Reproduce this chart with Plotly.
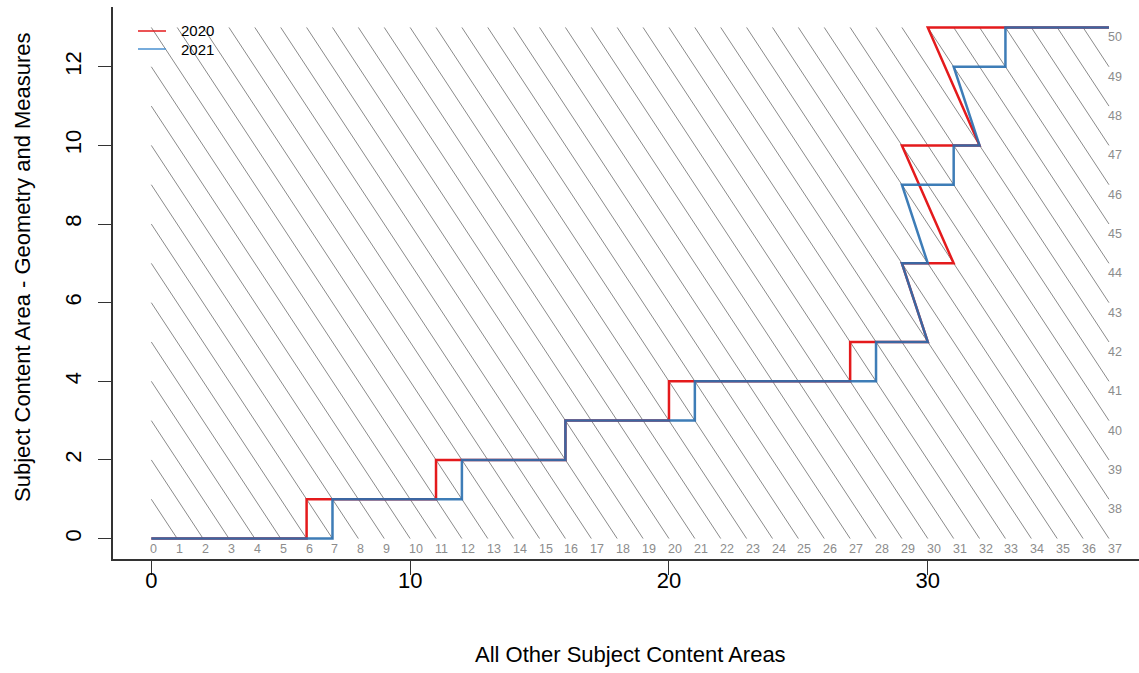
import plotly.graph_objects as go

# ---- data ----
x2020 = [0, 6, 6, 11, 11, 16, 16, 20, 20, 27, 27, 30, 29, 31, 29, 32, 30, 37]
y2020 = [0, 0, 1, 1, 2, 2, 3, 3, 4, 4, 5, 5, 7, 7, 10, 10, 13, 13]
x2021 = [0, 7, 7, 12, 12, 16, 16, 21, 21, 28, 28, 30, 29, 30, 29, 31, 31, 32, 31, 33, 33, 37]
y2021 = [0, 0, 1, 1, 2, 2, 3, 3, 4, 4, 5, 5, 7, 7, 9, 9, 10, 10, 12, 12, 13, 13]
series_names = ["2020", "2021"]
totals = list(range(0, 51))          # iso-total score lines x + y = k
x_max, y_max = 37, 13
x_ticks = [0, 10, 20, 30]
y_ticks = [0, 2, 4, 6, 8, 10, 12]

FONT = "Liberation Sans, Arial, Helvetica, sans-serif"
RED = "#E41A1C"
BLUE = "#2A6FB0"

L, T, B, W, H = 113, 7, 114, 1139, 673
PW = W - L
PH = H - T - B


def px_x(p):
    return (p - L) / PW


def px_y(p):
    return (H - B - p) / PH


# diagonal guide lines clipped to the plotting box
dx, dy = [], []
for k in totals:
    if k == 0:
        continue
    x0 = max(0, k - y_max)
    y0 = k - x0
    x1 = min(k, x_max)
    y1 = k - x1
    dx += [x0, x1, None]
    dy += [y0, y1, None]

fig = go.Figure()
fig.add_trace(go.Scatter(x=dx, y=dy, mode="lines",
                         line=dict(color="#8a8a8a", width=1),
                         hoverinfo="skip", showlegend=False))
fig.add_trace(go.Scatter(x=x2020, y=y2020, mode="lines", name=series_names[0],
                         line=dict(color=RED, width=2.5), showlegend=False))
fig.add_trace(go.Scatter(x=x2021, y=y2021, mode="lines", name=series_names[1],
                         line=dict(color=BLUE, width=2.5), opacity=0.9, showlegend=False))

annotations = []
for k in totals:
    if k <= x_max:
        ax, ay = k, 0
    else:
        ax, ay = x_max, k - x_max
    annotations.append(dict(x=ax, y=ay, xref="x", yref="y", text=str(k),
                            showarrow=False, xanchor="left", yanchor="top",
                            xshift=-2, yshift=-2, borderpad=0,
                            font=dict(family=FONT, size=12.5, color="#8c8c8c")))

annotations.append(dict(text="All Other Subject Content Areas", xref="paper", yref="paper",
                        x=px_x(630), y=px_y(655), showarrow=False,
                        xanchor="center", yanchor="middle",
                        font=dict(family=FONT, size=22, color="#000000")))
annotations.append(dict(text="Subject Content Area - Geometry and Measures", xref="paper", yref="paper",
                        x=px_x(22), y=px_y(267), showarrow=False,
                        textangle=-90, xanchor="center", yanchor="middle",
                        font=dict(family=FONT, size=22, color="#000000")))

# manual legend
shapes = []
for name, col, op, py in [(series_names[0], RED, 1.0, 31), (series_names[1], "#4A90D0", 1.0, 49)]:
    shapes.append(dict(type="line", xref="paper", yref="paper",
                       x0=px_x(138), x1=px_x(166), y0=px_y(py), y1=px_y(py),
                       line=dict(color=col, width=1.5), opacity=op))
    annotations.append(dict(text=name, xref="paper", yref="paper", x=px_x(180), y=px_y(py),
                            showarrow=False, xanchor="left", yanchor="middle", borderpad=0,
                            font=dict(family=FONT, size=15, color="#000000")))

fig.update_layout(
    width=W, height=H,
    margin=dict(l=L, r=0, t=T, b=B, pad=0),
    paper_bgcolor="white", plot_bgcolor="white",
    font=dict(family=FONT, size=22, color="#000000"),
    annotations=annotations,
    shapes=shapes,
    showlegend=False,
    xaxis=dict(range=[-1.48, 38.16], tickvals=x_ticks, ticks="outside", ticklen=14,
               tickcolor="#333333", showgrid=False, zeroline=False, showline=True,
               linecolor="#333333", linewidth=1.5, mirror=False, ticklabelstandoff=-13,
               tickfont=dict(family=FONT, size=22, color="#000000")),
    yaxis=dict(range=[-0.52, 13.52], tickvals=y_ticks, ticks="outside", ticklen=13,
               tickcolor="#333333", showgrid=False, zeroline=False, showline=True,
               linecolor="#333333", linewidth=1.5, tickangle=-90, ticklabelstandoff=8,
               tickfont=dict(family=FONT, size=22, color="#000000")),
)

fig.write_html("out.html", config={"displayModeBar": False},
               post_script="document.body.style.margin='0px';")
